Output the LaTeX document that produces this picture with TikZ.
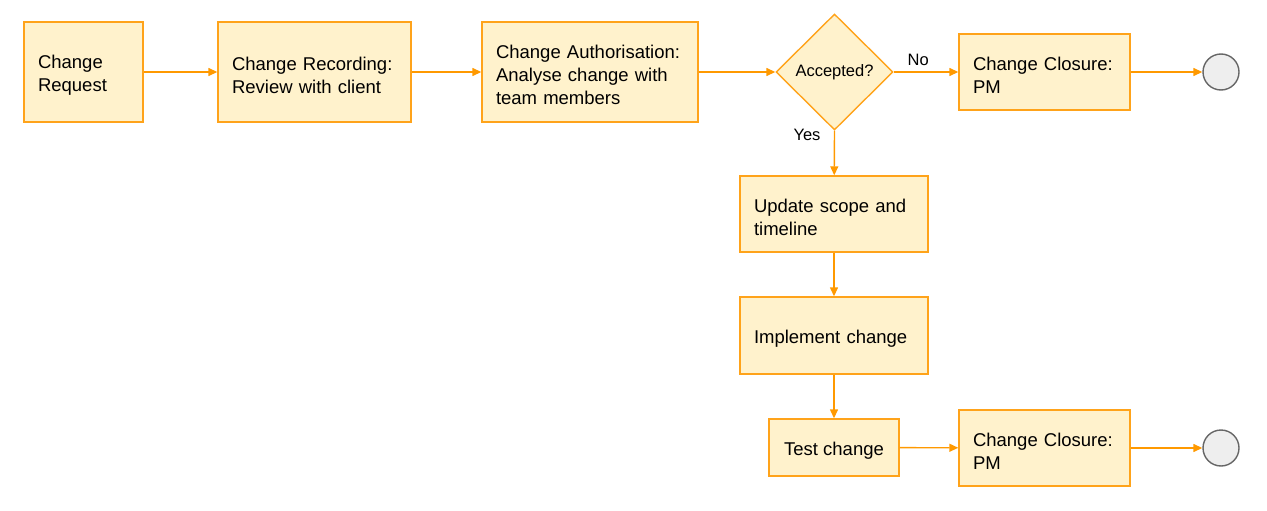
\documentclass[tikz,border=0pt]{standalone}
\usepackage{fontspec}
\setmainfont{Liberation Sans}
\usetikzlibrary{shapes.geometric,arrows.meta}
\definecolor{boxfill}{HTML}{FFF2CC}
\definecolor{boxline}{HTML}{FFA31A}
\definecolor{arrowc}{HTML}{FF9900}
\definecolor{endfill}{HTML}{EEEEEE}
\definecolor{endline}{HTML}{666666}
\begin{document}
\begin{tikzpicture}[x=1pt,y=-1pt,
  stepbox/.style={draw=boxline,fill=boxfill,line width=1.4pt,rectangle,inner xsep=14pt,inner ysep=0pt,
    align=left,font=\fontsize{18.5}{23}\selectfont,execute at begin node={\rule{0pt}{19.5pt}}},
  decide/.style={draw=boxline,fill=boxfill,line width=1.4pt,diamond,inner sep=0pt,
    minimum width=117pt,minimum height=116pt,font=\fontsize{16.5}{20}\selectfont},
  endpt/.style={draw=endline,fill=endfill,circle,line width=1.4pt,minimum size=36pt,inner sep=0pt},
  conn/.style={draw=arrowc,line width=1.4pt,-{Triangle[length=9pt,width=8pt]}},
  lbl/.style={font=\fontsize{16.5}{20}\selectfont}]
\useasboundingbox (0,0) rectangle (1267,511);
\node[stepbox,minimum width=119pt,minimum height=100pt,text width=91pt] (req) at (83.5,72) {Change\\Request};
\node[stepbox,minimum width=193pt,minimum height=100pt,text width=165pt] (rec) at (314.5,72) {Change Recording:\\Review with client};
\node[stepbox,minimum width=216pt,minimum height=100pt,text width=188pt] (auth) at (590,72) {Change Authorisation:\\Analyse change with\\team members};
\node[decide] (acc) at (834.5,72) {Accepted?};
\node[stepbox,minimum width=171pt,minimum height=76pt,text width=143pt] (clo1) at (1044.5,72) {Change Closure:\\PM};
\node[endpt] (end1) at (1221,72) {};
\node[stepbox,minimum width=188pt,minimum height=76pt,text width=160pt] (upd) at (834,214) {Update scope and\\timeline};
\node[stepbox,minimum width=188pt,minimum height=77pt,text width=160pt] (imp) at (834,335.5) {Implement change};
\node[stepbox,minimum width=130pt,minimum height=57pt,align=center] (test) at (834,447.5) {Test change};
\node[stepbox,minimum width=171pt,minimum height=76pt,text width=143pt] (clo2) at (1044.5,448) {Change Closure:\\PM};
\node[endpt] (end2) at (1221,448) {};
\draw[conn] (req) -- (rec);
\draw[conn] (rec) -- (auth);
\draw[conn] (auth) -- (acc.west);
\draw[conn] (acc.east) -- node[lbl,above=2pt,pos=0.38] (no) {No} (clo1);
\draw[conn] (clo1) -- (end1);
\draw[conn] (acc.south) -- node[lbl,left=10pt,pos=0.1] (yes) {Yes} (upd);
\draw[conn] (upd) -- (imp);
\draw[conn] (imp) -- (test);
\draw[conn] (test) -- (clo2);
\draw[conn] (clo2) -- (end2);
\end{tikzpicture}
\end{document}
